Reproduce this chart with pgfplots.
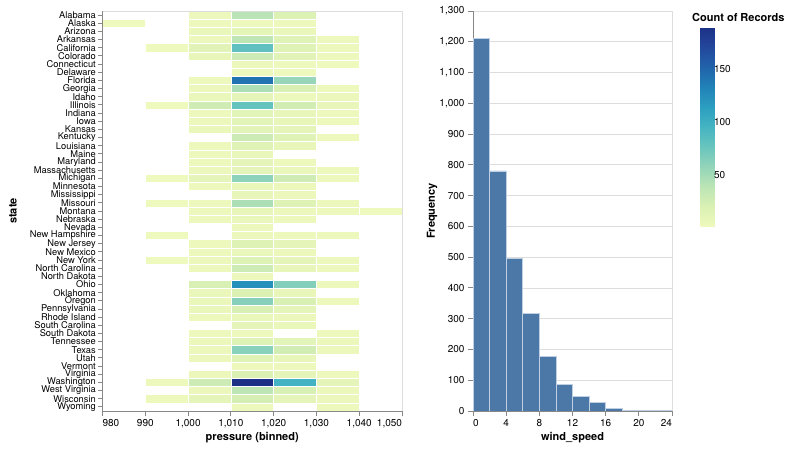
\documentclass[border=0pt]{standalone}
\usepackage{fontspec}
\setmainfont{TeX Gyre Heros}
\usepackage{pgfplots}
\pgfplotsset{compat=1.18}
\definecolor{axgray}{HTML}{888888}
\definecolor{gridgray}{HTML}{DDDDDD}
\definecolor{barblue}{HTML}{4C78A8}
\definecolor{baredge}{HTML}{BFD0E4}
\newcommand{\lfont}{\fontsize{11}{13}\selectfont\bfseries}
\pgfplotsset{
  myaxis/.style={
    scale only axis,
    anchor=south west,
    axis lines*=left,
    axis line style={draw=axgray, line width=0.9pt},
    every tick/.style={draw=axgray, line width=0.9pt},
    tick align=outside,
    major tick length=5pt,
    tick label style={font=\fontsize{10}{12}\selectfont},
    /pgf/number format/assume math mode=true,
    /pgf/number format/1000 sep={,},
    xtick pos=bottom, ytick pos=left,
  },
}
\begin{document}
\begin{tikzpicture}
\useasboundingbox (0pt,0pt) rectangle (790pt,449pt);
\begin{axis}[myaxis,
  at={(102.5pt,38pt)}, width=299.5pt, height=400pt,
  xmin=980, xmax=1050, ymin=-0.5, ymax=48.5, y dir=reverse,
  axis line style={draw=none},
  xtick={980,990,...,1050},
  xticklabels={\makebox[0pt][l]{980},990,{1,000},{1,010},{1,020},{1,030},{1,040},\makebox[0pt][r]{1,050}},
  ytick={0,...,48},
  yticklabels={Alabama,Alaska,Arizona,Arkansas,California,Colorado,Connecticut,Delaware,Florida,Georgia,Idaho,Illinois,Indiana,Iowa,Kansas,Kentucky,Louisiana,Maine,Maryland,Massachusetts,Michigan,Minnesota,Mississippi,Missouri,Montana,Nebraska,Nevada,New Hampshire,New Jersey,New Mexico,New York,North Carolina,North Dakota,Ohio,Oklahoma,Oregon,Pennsylvania,Rhode Island,South Carolina,South Dakota,Tennessee,Texas,Utah,Vermont,Virginia,Washington,West Virginia,Wisconsin,Wyoming},
  yticklabel style={font=\fontsize{9.3}{9.3}\selectfont, inner ysep=0pt, inner xsep=1.5pt},
  xlabel={pressure (binned)}, ylabel={state},
  every axis x label/.style={at={(axis description cs:0.5,-0.0675)}, anchor=center, font=\lfont},
  every axis y label/.style={at={(axis description cs:-0.299,0.5)}, anchor=center, rotate=90, font=\lfont},
  colormap={ylgnbu}{rgb255=(239,249,189) rgb255=(219,241,180) rgb255=(189,229,181) rgb255=(148,213,185) rgb255=(105,197,190) rgb255=(69,180,194) rgb255=(44,158,192) rgb255=(33,130,184) rgb255=(33,99,170) rgb255=(35,71,156) rgb255=(28,49,133)},
  point meta min=1, point meta max=190,
  colorbar,
  colorbar style={
    at={(parent axis.north east)}, anchor=north west,
    xshift=290pt, yshift=-16pt,
    width=16pt, height=200pt,
    y dir=normal,
    ytick={50,100,150},
    axis line style={draw=none},
    major tick length=0pt,
    yticklabel style={font=\fontsize{10}{12}\selectfont, xshift=-6pt},
    /pgf/number format/assume math mode=true,
  },
  extra description/.code={
    \draw[gridgray, line width=0.8pt] (axis cs:980,-0.5) -- (axis cs:1050,-0.5) -- (axis cs:1050,48.5);
    \draw[axgray, line width=0.9pt] (axis cs:980,-0.5) -- (axis cs:980,48.5) -- (axis cs:1050,48.5);
  },
]
\addplot[scatter, only marks, mark=square*, mark size=0.5pt,
  point meta=explicit,
  scatter/use mapped color={draw=white, fill=mapped color},
  mark options={xscale=42.79, yscale=8.163, line width=0.4pt}]
table[x=x, y=y, meta=c] {
x y c
985 1 2
1005 1 3
1015 1 4
1025 1 3
1005 0 4
1015 0 40
1025 0 19
1005 2 6
1015 2 11
1025 2 6
1005 3 5
1015 3 38
1025 3 15
1035 3 3
995 4 2
1005 4 14
1015 4 82
1025 4 15
1035 4 4
1005 5 7
1015 5 29
1025 5 14
1035 5 3
1015 6 5
1025 6 3
1035 6 2
1015 7 3
1025 7 2
1005 8 4
1015 8 143
1025 8 56
1005 9 5
1015 9 46
1025 9 22
1035 9 4
1005 10 6
1015 10 10
1025 10 4
1035 10 5
995 11 2
1005 11 28
1015 11 79
1025 11 26
1035 11 8
1005 12 4
1015 12 12
1025 12 8
1035 12 4
1005 13 5
1015 13 12
1025 13 8
1035 13 3
1005 14 6
1015 14 13
1025 14 10
1015 15 29
1025 15 15
1035 15 3
1005 16 4
1015 16 15
1025 16 8
1005 17 4
1015 17 6
1005 18 4
1015 18 10
1025 18 4
1005 19 5
1015 19 10
1025 19 6
1035 19 3
995 20 2
1005 20 10
1015 20 61
1025 20 28
1035 20 4
1005 21 4
1015 21 6
1025 21 5
1015 22 7
1025 22 5
995 23 2
1005 23 4
1015 23 46
1025 23 17
1035 23 5
1005 24 3
1015 24 7
1025 24 5
1035 24 3
1045 24 2
1005 25 4
1015 25 6
1025 25 3
1015 26 4
995 27 2
1015 27 5
1025 27 4
1035 27 3
1005 28 4
1015 28 17
1025 28 10
1005 29 4
1015 29 6
1025 29 5
995 30 2
1005 30 5
1015 30 18
1025 30 10
1035 30 4
1005 31 4
1015 31 29
1025 31 8
1035 31 3
1015 32 4
1005 33 22
1015 33 124
1025 33 65
1035 33 4
1005 34 6
1015 34 20
1025 34 8
1005 35 6
1015 35 64
1025 35 21
1035 35 3
1005 36 6
1015 36 22
1025 36 10
1005 37 4
1015 37 6
1025 37 5
1015 38 10
1025 38 6
1005 39 4
1015 39 4
1035 39 3
1005 40 5
1015 40 18
1025 40 12
1035 40 5
1005 41 5
1015 41 63
1025 41 26
1035 41 5
1005 42 5
1015 42 15
1025 42 8
1015 43 4
1025 43 4
1005 44 5
1015 44 20
1025 44 10
1035 44 4
995 45 3
1005 45 29
1015 45 190
1025 45 97
1035 45 10
1005 46 5
1015 46 38
1025 46 21
1035 46 5
995 47 3
1005 47 10
1015 47 24
1025 47 10
1035 47 5
1015 48 3
1035 48 3
};
\end{axis}
\node[anchor=west, font=\lfont, inner sep=0pt] at (692pt,432pt) {Count of Records};
\begin{axis}[myaxis,
  at={(473pt,38pt)}, width=199pt, height=400pt,
  xmin=0, xmax=24, ymin=0, ymax=1300,
  xtick={0,4,...,24},
  xticklabels={\makebox[0pt][l]{0},4,8,12,16,20,\makebox[0pt][r]{24}},
  ytick={0,100,...,1300},
  ymajorgrids, grid style={gridgray, line width=0.8pt},
  xlabel={wind\_speed}, ylabel={Frequency},
  every axis x label/.style={at={(axis description cs:0.5,-0.0675)}, anchor=center, font=\lfont},
  every axis y label/.style={at={(axis description cs:-0.206,0.5)}, anchor=center, rotate=90, font=\lfont},
  extra description/.code={
    \draw[gridgray, line width=0.8pt] (rel axis cs:1,0) -- (rel axis cs:1,1);
  },
]
\addplot[ybar interval, fill=barblue, draw=baredge, line width=0.8pt]
coordinates {(0,1210) (2,780) (4,497) (6,317) (8,177) (10,86) (12,47) (14,27) (16,8) (18,3) (20,3) (22,3) (24,3)};
\end{axis}
\end{tikzpicture}
\end{document}
